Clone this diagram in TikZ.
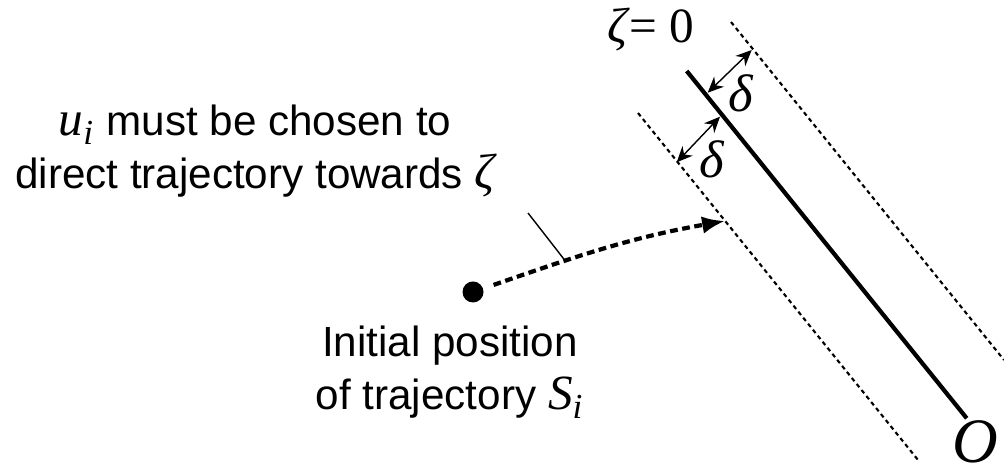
\documentclass[tikz,border=0pt]{standalone}
\usepackage{fontspec}
\setmainfont{Liberation Sans}
\newfontfamily\serifmath{Liberation Serif}
\usetikzlibrary{arrows.meta}
\newcommand{\mvar}[1]{{\serifmath\itshape\fontsize{14}{15}\selectfont #1}}
\newcommand{\msub}[1]{\textsubscript{\serifmath\itshape\fontsize{10}{10}\selectfont #1}}

\begin{document}
\begin{tikzpicture}[
			x=0.01cm, y=-0.01cm,
			every node/.style={font=\fontsize{12}{15}\selectfont},
			note/.style={
				align=center,
				inner sep=0pt
			},
			symbol/.style={
				font=\fontsize{15}{16}\selectfont\serifmath\itshape,
				inner sep=0pt
			},
			surface/.style={line width=1.2pt},
			boundary/.style={line width=0.6pt, dash pattern=on 1.2pt off 1pt},
			deltaarrow/.style={<->, >={Stealth[length=4.5pt,width=4pt]}, line width=0.4pt},
			trajectory/.style={->, >={Latex[length=6.5pt,width=5pt]}, line width=1.2pt, dash pattern=on 2.2pt off 1.3pt}
			]
			\useasboundingbox (0,0) rectangle (1004,474);
			
			% Lines
			\coordinate (surface top) at (686.7,71);
			\coordinate (surface end) at (966.7,418.3);
			\coordinate (upper top) at (731,22);
			\coordinate (upper end) at (1004,360);
			\coordinate (lower top) at (638,113);
			\coordinate (lower end) at (918,460);
			\draw [surface] (surface top) -- (surface end);
			\draw [boundary] (upper top) -- (upper end);
			\draw [boundary] (lower top) -- (lower end);
			
			% Nodes
			\node (zeta label) at (651,30) {\serifmath\fontsize{14}{15}\selectfont{\itshape ζ}\kern0.5pt= 0};
			\node (delta upper) [symbol] at (741,93) {δ};
			\node (delta lower) [symbol] at (712,159) {δ};
			\node (origin) [symbol, font=\fontsize{18}{20}\selectfont\serifmath\itshape] at (975,442) {O};
			\node (goal) [note] at (255,151) {\mvar{u}\msub{i} must be chosen to\\direct trajectory towards \mvar{ζ}};
			\node (start) [circle, fill, minimum size=0.21cm, inner sep=0pt] at (473,292) {};
			\node (start label) [note] at (450,372) {Initial position\\of trajectory \mvar{S}\msub{i}};
			\coordinate (tip) at (725,221);
			\coordinate (lead) at (528,213);
			
			% Arrows
			\coordinate (d1a) at (707.7,92.7);
			\coordinate (d1b) at (751.7,50);
			\coordinate (d2a) at (720,116.7);
			\coordinate (d2b) at (676.7,162.3);
			\draw [deltaarrow] (d1a) -- (d1b);
			\draw [deltaarrow] (d2a) -- (d2b);
			\draw [trajectory, shorten <=3pt] (start) to[out=19, in=190] coordinate[pos=0.33] (bend) (tip);
			\draw [line width=0.4pt] (lead) -- (bend);
			
		\end{tikzpicture}
\end{document}
